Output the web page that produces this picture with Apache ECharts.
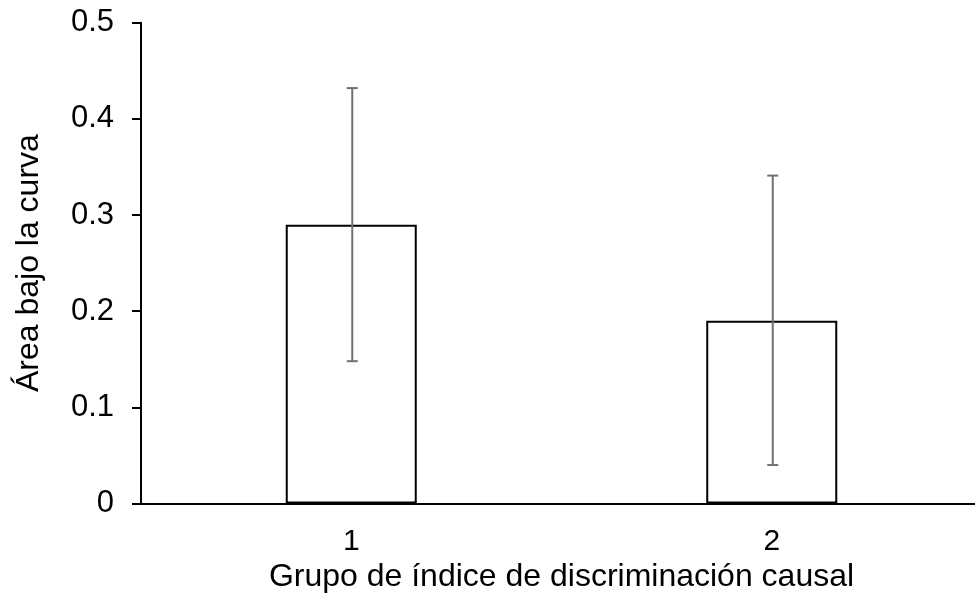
<!DOCTYPE html>
<html>
<head>
<meta charset="utf-8">
<script src="https://cdn.jsdelivr.net/npm/echarts@6/dist/echarts.min.js"></script>
<style>html,body{margin:0;padding:0;background:#fff}#c{width:975px;height:594px}</style>
</head>
<body>
<div id="c"></div>
<script>
const categories = ['1', '2'];
const means = [0.290, 0.190];
const errLow = [0.148, 0.040];
const errHigh = [0.432, 0.341];
const yTicks = [0, 0.1, 0.2, 0.3, 0.4, 0.5];
const xTitle = 'Grupo de índice de discriminación causal';
const yTitle = 'Área bajo la curva';

const FONT = '"Liberation Sans", Arial, sans-serif';
const chart = echarts.init(document.getElementById('c'), null, {renderer: 'canvas'});
chart.setOption({
  animation: false,
  backgroundColor: '#ffffff',
  grid: {left: 141, width: 841, top: 22.7, bottom: 90.5, containLabel: false, outerBoundsMode: 'none'},
  xAxis: {
    type: 'category',
    data: categories,
    name: xTitle,
    nameLocation: 'middle',
    nameGap: 51,
    nameTextStyle: {fontFamily: FONT, fontSize: 32, color: '#000'},
    axisLine: {lineStyle: {color: '#000', width: 2}},
    axisTick: {alignWithLabel: true, length: 8, lineStyle: {color: '#000', width: 2}},
    axisLabel: {fontFamily: FONT, fontSize: 30, color: '#000', margin: 23}
  },
  yAxis: {
    type: 'value',
    min: 0, max: 0.5, interval: 0.1,
    name: yTitle,
    nameLocation: 'middle',
    nameGap: 96,
    nameTextStyle: {fontFamily: FONT, fontSize: 32, color: '#000'},
    axisLine: {show: true, lineStyle: {color: '#000', width: 2}},
    axisTick: {show: true, length: 9, lineStyle: {color: '#000', width: 2}},
    splitLine: {show: false},
    axisLabel: {fontFamily: FONT, fontSize: 31, color: '#000', margin: 27,
      formatter: v => {
        const r = Math.round(v * 10) / 10;
        return yTicks.indexOf(r) >= 0 ? (r === 0 ? '0' : String(r)) : '';
      }}
  },
  series: [
    {
      type: 'bar',
      data: means,
      barWidth: 131,
      itemStyle: {color: '#ffffff', borderColor: '#000', borderWidth: 2}
    },
    {
      type: 'custom',
      data: categories.map((c, i) => [i, errLow[i], errHigh[i]]),
      renderItem: function (params, api) {
        const lo = api.coord([api.value(0), api.value(1)]);
        const hi = api.coord([api.value(0), api.value(2)]);
        const x = lo[0] + 1;
        const hw = 5.5;
        const st = {stroke: '#707070', lineWidth: 2};
        return {
          type: 'group',
          children: [
            {type: 'line', shape: {x1: x, y1: lo[1], x2: x, y2: hi[1]}, style: st},
            {type: 'line', shape: {x1: x - hw, y1: lo[1], x2: x + hw, y2: lo[1]}, style: st},
            {type: 'line', shape: {x1: x - hw, y1: hi[1], x2: x + hw, y2: hi[1]}, style: st}
          ]
        };
      },
      z: 5
    }
  ]
});
</script>
</body>
</html>
